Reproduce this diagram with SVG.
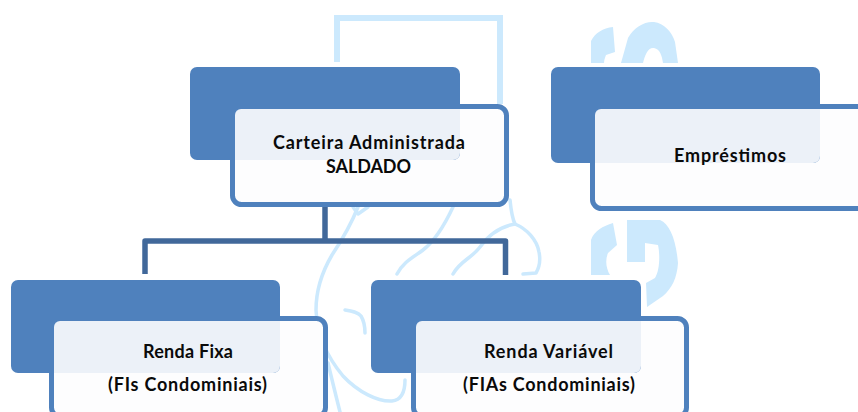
<svg xmlns="http://www.w3.org/2000/svg" width="858" height="412" viewBox="0 0 858 412">
<style>
.wm{fill:none;stroke:#cce9fd;stroke-width:3.5;stroke-linejoin:round;stroke-linecap:round}
.wmb{fill:none;stroke:#cce9fd;stroke-width:6}
.wmf{fill:#cce9fd;stroke:none}
.card{fill:#fdfdfe;stroke:#4f81bd;stroke-width:5}
.head{fill:#4f81bd}
.lap{fill:#ecf1f8}
.conn{fill:none;stroke:#41689a;stroke-width:5.5;stroke-linejoin:round}
text{font-family:"Lato","Open Sans","Liberation Sans",sans-serif;font-weight:700;font-size:18px;fill:#0a0a0a}
</style>
<rect width="858" height="412" fill="#ffffff"/>
<g id="watermark">
<path class="wmb" d="M337 62V18H500V104"/>
<path class="wm" d="M358 207C352 222 342 240 332 255C322 272 316 292 316 310C317 335 328 358 343 376C358 392 378 402 392 401C402 400 405 392 405 380"/>
<path class="wm" d="M353 207L358 214L368 207"/>
<path class="wm" d="M453 207C446 222 436 240 423 250C414 257 404 261 397 274"/>
<path class="wm" d="M510 200C511 210 512 218 515 224C527 229 537 240 539 252C541 262 539 268 536 273L523 274"/>
<path class="wm" d="M515 224C503 226 490 233 480 247C472 258 460 261 453 274"/>
<path class="wm" d="M345 310C352 311 358 312 361 316C364 321 365 327 365 333"/>
<path class="wm" d="M328 363C332 380 336 396 340 412"/>
<path class="wmf" d="M591 63V41C595 33 603 28 613 27L615 52L606 55C605 58 604 60 604 63Z"/>
<path class="wmf" d="M621 63L628 38C634 27 645 21 654 22C664 23 672 32 675 42L678 63H663C662 56 660 49 654 48C648 47 645 55 643 63Z"/>
<path class="wmf" d="M591 275V240C594 231 603 226 613 223L617 245L608 253C605 260 606 268 610 275Z"/>
<path class="wmf" d="M627 220H660C670 224 676 240 678 263C677 278 672 288 663 296L647 307L646 283L655 278C660 270 660 254 658 245L645 243V262H627Z"/>
</g>
<g id="connectors">
<path class="conn" d="M145 274V241H505.5V275"/>
<path class="conn" d="M325 205V241"/>
</g>
<g id="node-carteira">
<rect class="card" x="232.5" y="106.5" width="274" height="98" rx="9"/>
<rect class="head" x="190" y="67" width="270" height="93" rx="7"/>
<path class="lap" d="M241 109H460V153a7 7 0 0 1-7 7H235V115a6 6 0 0 1 6-6Z"/>
<text x="273" y="149" textLength="192" lengthAdjust="spacing">Carteira Administrada</text>
<text x="326" y="173" textLength="85" lengthAdjust="spacing">SALDADO</text>
</g>
<g id="node-emprestimos">
<rect class="card" x="592.5" y="106.5" width="290" height="102" rx="9"/>
<rect class="head" x="551" y="67" width="269" height="96" rx="7"/>
<path class="lap" d="M601 109H820V156a7 7 0 0 1-7 7H595V115a6 6 0 0 1 6-6Z"/>
<text x="674" y="162" textLength="112" lengthAdjust="spacing">Empréstimos</text>
</g>
<g id="node-renda-fixa">
<rect class="card" x="51.5" y="318.5" width="274" height="98" rx="9"/>
<rect class="head" x="11" y="280" width="269" height="93" rx="7"/>
<path class="lap" d="M60 321H280V366a7 7 0 0 1-7 7H54V327a6 6 0 0 1 6-6Z"/>
<text x="143" y="358" textLength="90" lengthAdjust="spacing">Renda Fixa</text>
<text x="108" y="391" textLength="159" lengthAdjust="spacing">(FIs Condominiais)</text>
</g>
<g id="node-renda-variavel">
<rect class="card" x="413.5" y="318.5" width="273" height="98" rx="9"/>
<rect class="head" x="371" y="280" width="270" height="93" rx="7"/>
<path class="lap" d="M422 321H641V366a7 7 0 0 1-7 7H416V327a6 6 0 0 1 6-6Z"/>
<text x="484" y="358" textLength="129" lengthAdjust="spacing">Renda Variável</text>
<text x="463" y="391" textLength="172" lengthAdjust="spacing">(FIAs Condominiais)</text>
</g>
</svg>
